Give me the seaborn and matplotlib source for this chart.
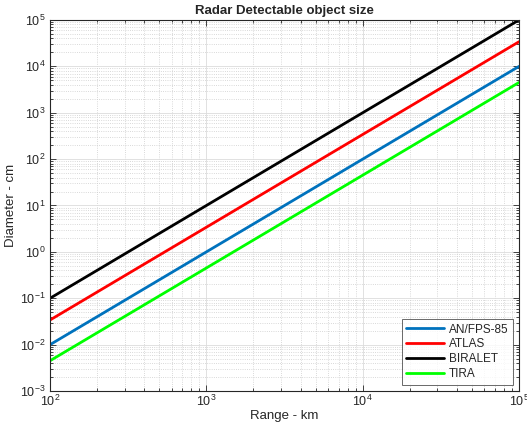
import pandas as pd
import matplotlib
matplotlib.use('Agg')
import matplotlib.pyplot as plt
import seaborn as sns
from matplotlib.ticker import LogLocator, NullFormatter

# range end points (km) and detectable diameter (cm)
range_km = [1e2, 1e3, 1e4, 1e5]
radars = ['AN/FPS-85', 'ATLAS', 'BIRALET', 'TIRA']
an_fps85 = [0.01, 1.0, 100.0, 1.0e4]
atlas = [0.034, 3.4, 340.0, 3.4e4]
biralet = [0.1, 10.0, 1000.0, 1.0e5]
tira = [0.0045, 0.45, 45.0, 4.5e3]
colors = ['#0072BD', '#FF0000', '#000000', '#00FF00']

rows = []
for name, vals in zip(radars, [an_fps85, atlas, biralet, tira]):
    for r, d in zip(range_km, vals):
        rows.append({'Range': r, 'Diameter': d, 'Radar': name})
df = pd.DataFrame(rows)

sns.set_style('ticks')
plt.rcParams['font.family'] = ['Liberation Sans', 'DejaVu Sans']

fig = plt.figure(figsize=(5.27, 4.28), dpi=100)
ax = fig.add_axes([0.095, 0.0864, 0.89, 0.867])

sns.lineplot(data=df, x='Range', y='Diameter', hue='Radar', hue_order=radars,
             palette=colors, linewidth=2, ax=ax)
ax.set_xscale('log')
ax.set_yscale('log')
ax.set_xlim(1e2, 1e5)
ax.set_ylim(1e-3, 1e5)

ax.xaxis.set_major_locator(LogLocator(base=10, numticks=10))
ax.yaxis.set_major_locator(LogLocator(base=10, numticks=20))
ax.xaxis.set_minor_locator(LogLocator(base=10, subs=range(2, 10), numticks=20))
ax.yaxis.set_minor_locator(LogLocator(base=10, subs=range(2, 10), numticks=30))
ax.xaxis.set_minor_formatter(NullFormatter())
ax.yaxis.set_minor_formatter(NullFormatter())

ax.grid(which='major', color='#dcdcdc', linestyle='-', linewidth=0.6)
ax.grid(which='minor', color='#cccccc', linestyle=':', linewidth=0.6)
ax.set_axisbelow(True)

for s in ax.spines.values():
    s.set_color('#262626')
    s.set_linewidth(0.8)
ax.tick_params(which='both', direction='in', top=True, right=True,
               colors='#262626', labelsize=9, width=0.6)
ax.tick_params(which='major', length=4)
ax.tick_params(which='minor', length=2)
ax.tick_params(axis='x', pad=2)
ax.tick_params(axis='y', pad=3)

ax.set_title('Radar Detectable object size', fontsize=9.5, fontweight='bold', pad=4)
ax.set_xlabel('Range - km', fontsize=9.5, color='#262626', labelpad=1)
ax.set_ylabel('Diameter - cm', fontsize=9.5, color='#262626', labelpad=2)

leg = ax.legend(loc='lower right', fontsize=8.5, frameon=True, fancybox=False,
                edgecolor='#262626', handlelength=3.2, borderpad=0.4,
                labelspacing=0.25, handletextpad=0.4, borderaxespad=0.5)
leg.get_frame().set_linewidth(0.6)

fig.savefig('out.png', dpi=100)
